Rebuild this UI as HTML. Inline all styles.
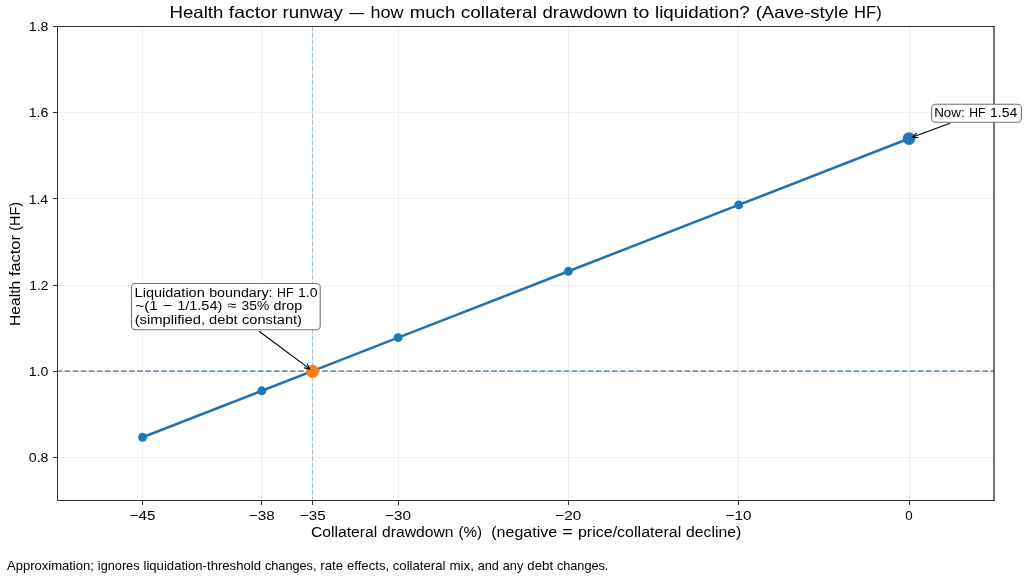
<!DOCTYPE html>
<html><head><meta charset="utf-8"><style>
html,body{margin:0;padding:0;background:#fff;width:1024px;height:579px;overflow:hidden}
svg{display:block;font-family:"Liberation Sans",sans-serif;will-change:transform}
</style></head><body>
<svg width="1024" height="579" viewBox="0 0 1024 579">
<rect width="1024" height="579" fill="#fff"/>
<g stroke="#b0b0b0" stroke-opacity="0.2" stroke-width="1"><line x1="142.50" y1="26.5" x2="142.50" y2="500.5"/><line x1="261.50" y1="26.5" x2="261.50" y2="500.5"/><line x1="312.50" y1="26.5" x2="312.50" y2="500.5"/><line x1="398.50" y1="26.5" x2="398.50" y2="500.5"/><line x1="568.50" y1="26.5" x2="568.50" y2="500.5"/><line x1="738.50" y1="26.5" x2="738.50" y2="500.5"/><line x1="909.50" y1="26.5" x2="909.50" y2="500.5"/><line x1="57.4" y1="457.50" x2="994.0" y2="457.50"/><line x1="57.4" y1="371.50" x2="994.0" y2="371.50"/><line x1="57.4" y1="285.50" x2="994.0" y2="285.50"/><line x1="57.4" y1="198.50" x2="994.0" y2="198.50"/><line x1="57.4" y1="112.50" x2="994.0" y2="112.50"/><line x1="57.4" y1="26.50" x2="994.0" y2="26.50"/></g>
<line x1="312.5" y1="500.5" x2="312.5" y2="26.5" stroke="#a2bfd6" stroke-width="1.0" stroke-dasharray="4.695 2.03" stroke-dashoffset="1.0"/>
<line x1="57.4" y1="371.1" x2="994.0" y2="371.1" stroke="#7696b0" stroke-width="1.75" stroke-dasharray="5.62 2.43" stroke-dashoffset="0.8"/>
<polyline points="142.59,437.25 261.82,390.78 312.91,370.87 398.08,337.68 568.41,271.29 738.74,204.91 909.07,138.53" fill="none" stroke="#2572aa" stroke-width="2.54" stroke-linejoin="round" stroke-linecap="round"/>
<circle cx="142.59" cy="437.25" r="4.44" fill="#1f77b4"/>
<circle cx="261.82" cy="390.78" r="4.44" fill="#1f77b4"/>
<circle cx="312.91" cy="370.87" r="4.44" fill="#1f77b4"/>
<circle cx="398.08" cy="337.68" r="4.44" fill="#1f77b4"/>
<circle cx="568.41" cy="271.29" r="4.44" fill="#1f77b4"/>
<circle cx="738.74" cy="204.91" r="4.44" fill="#1f77b4"/>
<circle cx="909.07" cy="138.53" r="4.44" fill="#1f77b4"/>
<circle cx="909.07" cy="138.53" r="6.35" fill="#1f77b4"/>
<circle cx="312.5" cy="371.30" r="6.5" fill="#ff7f0e"/>
<g stroke="#303030" stroke-width="1.0" fill="none"><line x1="57.5" y1="26" x2="57.5" y2="501"/><line x1="994" y1="26" x2="994" y2="501" stroke="#1a1a1a" stroke-width="1.2"/><line x1="57" y1="26.5" x2="994.5" y2="26.5"/><line x1="57" y1="500.5" x2="994.5" y2="500.5"/></g>
<g stroke="#303030" stroke-width="1.0"><line x1="142.50" y1="500.5" x2="142.50" y2="505"/><line x1="261.50" y1="500.5" x2="261.50" y2="505"/><line x1="312.50" y1="500.5" x2="312.50" y2="505"/><line x1="398.50" y1="500.5" x2="398.50" y2="505"/><line x1="568.50" y1="500.5" x2="568.50" y2="505"/><line x1="738.50" y1="500.5" x2="738.50" y2="505"/><line x1="909.50" y1="500.5" x2="909.50" y2="505"/><line x1="53" y1="457.50" x2="57.5" y2="457.50"/><line x1="53" y1="371.50" x2="57.5" y2="371.50"/><line x1="53" y1="285.50" x2="57.5" y2="285.50"/><line x1="53" y1="198.50" x2="57.5" y2="198.50"/><line x1="53" y1="112.50" x2="57.5" y2="112.50"/><line x1="53" y1="26.50" x2="57.5" y2="26.50"/></g>
<g fill="#000" font-family="Liberation Sans, sans-serif"><text x="129.66" y="519.50" font-size="13.32" textLength="25.74" lengthAdjust="spacingAndGlyphs" xml:space="preserve">−45</text><text x="248.77" y="519.50" font-size="13.32" textLength="26.01" lengthAdjust="spacingAndGlyphs" xml:space="preserve">−38</text><text x="299.99" y="519.50" font-size="13.32" textLength="25.74" lengthAdjust="spacingAndGlyphs" xml:space="preserve">−35</text><text x="385.02" y="519.50" font-size="13.32" textLength="25.94" lengthAdjust="spacingAndGlyphs" xml:space="preserve">−30</text><text x="555.35" y="519.50" font-size="13.32" textLength="25.94" lengthAdjust="spacingAndGlyphs" xml:space="preserve">−20</text><text x="725.68" y="519.50" font-size="13.32" textLength="25.94" lengthAdjust="spacingAndGlyphs" xml:space="preserve">−10</text><text x="905.37" y="519.50" font-size="13.32" textLength="7.41" lengthAdjust="spacingAndGlyphs" xml:space="preserve">0</text><text x="28.79" y="462.21" font-size="13.32" textLength="19.64" lengthAdjust="spacingAndGlyphs" xml:space="preserve">0.8</text><text x="28.79" y="376.00" font-size="13.32" textLength="19.55" lengthAdjust="spacingAndGlyphs" xml:space="preserve">1.0</text><text x="29.23" y="289.79" font-size="13.32" textLength="19.26" lengthAdjust="spacingAndGlyphs" xml:space="preserve">1.2</text><text x="28.66" y="203.57" font-size="13.32" textLength="19.53" lengthAdjust="spacingAndGlyphs" xml:space="preserve">1.4</text><text x="28.73" y="117.36" font-size="13.32" textLength="19.70" lengthAdjust="spacingAndGlyphs" xml:space="preserve">1.6</text><text x="28.81" y="31.15" font-size="13.32" textLength="19.61" lengthAdjust="spacingAndGlyphs" xml:space="preserve">1.8</text><text x="169.53" y="18.30" font-size="17.32" textLength="53.85" lengthAdjust="spacingAndGlyphs" xml:space="preserve">Health</text><text x="228.88" y="18.30" font-size="17.32" textLength="48.52" lengthAdjust="spacingAndGlyphs" xml:space="preserve">factor</text><text x="282.55" y="18.30" font-size="17.32" textLength="60.29" lengthAdjust="spacingAndGlyphs" xml:space="preserve">runway</text><text x="349.32" y="18.30" font-size="17.32" textLength="14.90" lengthAdjust="spacingAndGlyphs" xml:space="preserve">—</text><text x="370.47" y="18.30" font-size="17.32" textLength="33.07" lengthAdjust="spacingAndGlyphs" xml:space="preserve">how</text><text x="409.74" y="18.30" font-size="17.32" textLength="45.55" lengthAdjust="spacingAndGlyphs" xml:space="preserve">much</text><text x="460.81" y="18.30" font-size="17.32" textLength="76.07" lengthAdjust="spacingAndGlyphs" xml:space="preserve">collateral</text><text x="542.51" y="18.30" font-size="17.32" textLength="84.99" lengthAdjust="spacingAndGlyphs" xml:space="preserve">drawdown</text><text x="633.07" y="18.30" font-size="17.32" textLength="16.32" lengthAdjust="spacingAndGlyphs" xml:space="preserve">to</text><text x="654.97" y="18.30" font-size="17.32" textLength="94.78" lengthAdjust="spacingAndGlyphs" xml:space="preserve">liquidation?</text><text x="755.70" y="18.30" font-size="17.32" textLength="92.82" lengthAdjust="spacingAndGlyphs" xml:space="preserve">(Aave-style</text><text x="854.08" y="18.30" font-size="17.32" textLength="27.63" lengthAdjust="spacingAndGlyphs" xml:space="preserve">HF)</text><text x="310.92" y="537.30" font-size="14.66" textLength="66.27" lengthAdjust="spacingAndGlyphs" xml:space="preserve">Collateral</text><text x="381.95" y="537.30" font-size="14.66" textLength="71.67" lengthAdjust="spacingAndGlyphs" xml:space="preserve">drawdown</text><text x="458.44" y="537.30" font-size="14.66" textLength="23.51" lengthAdjust="spacingAndGlyphs" xml:space="preserve">(%)</text><text x="491.27" y="537.30" font-size="14.66" textLength="65.95" lengthAdjust="spacingAndGlyphs" xml:space="preserve">(negative</text><text x="562.29" y="537.30" font-size="14.66" textLength="10.45" lengthAdjust="spacingAndGlyphs" xml:space="preserve">=</text><text x="577.96" y="537.30" font-size="14.66" textLength="103.25" lengthAdjust="spacingAndGlyphs" xml:space="preserve">price/collateral</text><text x="685.97" y="537.30" font-size="14.66" textLength="55.19" lengthAdjust="spacingAndGlyphs" xml:space="preserve">decline)</text><g transform="rotate(-90)"><text x="-326.09" y="20.00" font-size="14.66" textLength="45.41" lengthAdjust="spacingAndGlyphs" xml:space="preserve">Health</text><text x="-276.04" y="20.00" font-size="14.66" textLength="40.92" lengthAdjust="spacingAndGlyphs" xml:space="preserve">factor</text><text x="-230.68" y="20.00" font-size="14.66" textLength="28.67" lengthAdjust="spacingAndGlyphs" xml:space="preserve">(HF)</text></g><text x="6.97" y="569.60" font-size="11.99" textLength="86.87" lengthAdjust="spacingAndGlyphs" xml:space="preserve">Approximation;</text><text x="97.87" y="569.60" font-size="11.99" textLength="41.69" lengthAdjust="spacingAndGlyphs" xml:space="preserve">ignores</text><text x="143.47" y="569.60" font-size="11.99" textLength="117.55" lengthAdjust="spacingAndGlyphs" xml:space="preserve">liquidation-threshold</text><text x="264.94" y="569.60" font-size="11.99" textLength="51.53" lengthAdjust="spacingAndGlyphs" xml:space="preserve">changes,</text><text x="320.19" y="569.60" font-size="11.99" textLength="23.00" lengthAdjust="spacingAndGlyphs" xml:space="preserve">rate</text><text x="346.91" y="569.60" font-size="11.99" textLength="42.22" lengthAdjust="spacingAndGlyphs" xml:space="preserve">effects,</text><text x="392.76" y="569.60" font-size="11.99" textLength="52.68" lengthAdjust="spacingAndGlyphs" xml:space="preserve">collateral</text><text x="449.41" y="569.60" font-size="11.99" textLength="24.61" lengthAdjust="spacingAndGlyphs" xml:space="preserve">mix,</text><text x="477.71" y="569.60" font-size="11.99" textLength="21.09" lengthAdjust="spacingAndGlyphs" xml:space="preserve">and</text><text x="502.80" y="569.60" font-size="11.99" textLength="20.51" lengthAdjust="spacingAndGlyphs" xml:space="preserve">any</text><text x="527.32" y="569.60" font-size="11.99" textLength="25.75" lengthAdjust="spacingAndGlyphs" xml:space="preserve">debt</text><text x="556.95" y="569.60" font-size="11.99" textLength="51.43" lengthAdjust="spacingAndGlyphs" xml:space="preserve">changes.</text></g>
<line x1="950.00" y1="123.20" x2="912.80" y2="137.10" stroke="#000" stroke-width="1.1"/><polyline points="916.67,132.94 912.80,137.10 918.45,137.70" fill="none" stroke="#000" stroke-width="1.1"/><line x1="259.00" y1="331.30" x2="309.70" y2="368.90" stroke="#000" stroke-width="1.1"/><polyline points="304.11,367.91 309.70,368.90 307.13,363.83" fill="none" stroke="#000" stroke-width="1.1"/><rect x="931.6" y="104.3" width="89.80" height="18.00" rx="3.8" ry="3.8" fill="#fff" stroke="#737373" stroke-width="1.1"/><rect x="131.5" y="283.5" width="188.70" height="46.30" rx="3.8" ry="3.8" fill="#fff" stroke="#737373" stroke-width="1.1"/><g fill="#000" font-family="Liberation Sans, sans-serif"><text x="934.20" y="116.70" font-size="13.32" textLength="30.55" lengthAdjust="spacingAndGlyphs" xml:space="preserve">Now:</text><text x="969.20" y="116.70" font-size="13.32" textLength="16.19" lengthAdjust="spacingAndGlyphs" xml:space="preserve">HF</text><text x="989.94" y="116.70" font-size="13.32" textLength="27.34" lengthAdjust="spacingAndGlyphs" xml:space="preserve">1.54</text><text x="134.61" y="296.70" font-size="13.32" textLength="70.15" lengthAdjust="spacingAndGlyphs" xml:space="preserve">Liquidation</text><text x="209.18" y="296.70" font-size="13.32" textLength="63.41" lengthAdjust="spacingAndGlyphs" xml:space="preserve">boundary:</text><text x="277.04" y="296.70" font-size="13.32" textLength="16.36" lengthAdjust="spacingAndGlyphs" xml:space="preserve">HF</text><text x="298.00" y="296.70" font-size="13.32" textLength="19.55" lengthAdjust="spacingAndGlyphs" xml:space="preserve">1.0</text><text x="135.23" y="310.30" font-size="13.32" textLength="22.54" lengthAdjust="spacingAndGlyphs" xml:space="preserve">~(1</text><text x="162.78" y="310.30" font-size="13.32" textLength="9.55" lengthAdjust="spacingAndGlyphs" xml:space="preserve">−</text><text x="177.21" y="310.30" font-size="13.32" textLength="45.06" lengthAdjust="spacingAndGlyphs" xml:space="preserve">1/1.54)</text><text x="227.40" y="310.30" font-size="13.32" textLength="8.83" lengthAdjust="spacingAndGlyphs" xml:space="preserve">≈</text><text x="241.61" y="310.30" font-size="13.32" textLength="27.56" lengthAdjust="spacingAndGlyphs" xml:space="preserve">35%</text><text x="273.49" y="310.30" font-size="13.32" textLength="28.63" lengthAdjust="spacingAndGlyphs" xml:space="preserve">drop</text><text x="134.73" y="324.00" font-size="13.32" textLength="70.37" lengthAdjust="spacingAndGlyphs" xml:space="preserve">(simplified,</text><text x="209.10" y="324.00" font-size="13.32" textLength="28.63" lengthAdjust="spacingAndGlyphs" xml:space="preserve">debt</text><text x="242.04" y="324.00" font-size="13.32" textLength="59.85" lengthAdjust="spacingAndGlyphs" xml:space="preserve">constant)</text></g>
</svg>
</body></html>
